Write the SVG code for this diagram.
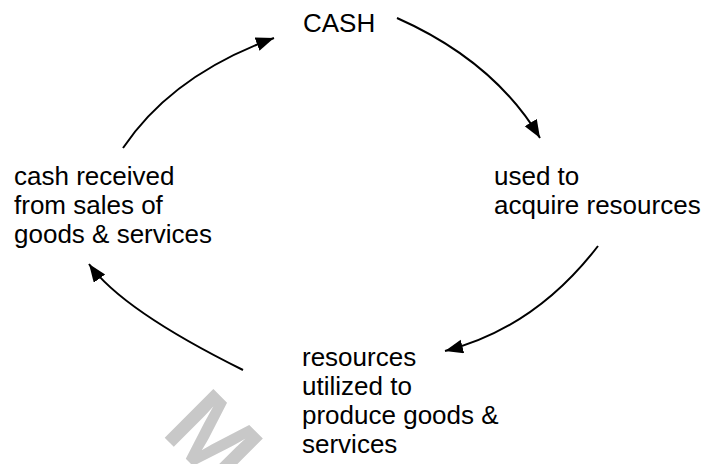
<svg xmlns="http://www.w3.org/2000/svg" width="708" height="464" viewBox="0 0 708 464">
  <style>
    .lbl { font-family: "Liberation Sans", Arial, sans-serif; font-size: 26px; fill: #000; }
    .conn { fill: none; stroke: #000; stroke-width: 2; marker-end: url(#arrow); }
    .wm { font-family: "Liberation Sans", Arial, sans-serif; font-size: 100px; font-weight: bold; fill: #c8c8c8; }
  </style>
  <defs>
    <marker id="arrow" markerUnits="userSpaceOnUse" markerWidth="20" markerHeight="16" refX="18" refY="7" orient="auto">
      <path d="M0,0 L18,7 L0,14 z" fill="#000"/>
    </marker>
  </defs>
  <rect width="708" height="464" fill="#fff"/>
  <text class="wm" transform="translate(160,433) rotate(45)">Mo</text>

  <g id="connectors">
    <path class="conn" d="M123,148 Q172,75 274,38"/>
    <path class="conn" d="M397,18 Q494,61 540,138"/>
    <path class="conn" d="M598,246 Q535,328 445,351"/>
    <path class="conn" d="M243,370 Q122,310 89,264"/>
  </g>

  <g id="cash">
    <text class="lbl" x="303" y="32">CASH</text>
  </g>
  <g id="used">
    <text class="lbl" x="494" y="185">used to</text>
    <text class="lbl" x="494" y="214">acquire resources</text>
  </g>
  <g id="resources">
    <text class="lbl" x="302" y="366">resources</text>
    <text class="lbl" x="302" y="395">utilized to</text>
    <text class="lbl" x="302" y="424">produce goods &amp;</text>
    <text class="lbl" x="302" y="453">services</text>
  </g>
  <g id="received">
    <text class="lbl" x="14" y="185">cash received</text>
    <text class="lbl" x="14" y="214">from sales of</text>
    <text class="lbl" x="14" y="243">goods &amp; services</text>
  </g>
</svg>
